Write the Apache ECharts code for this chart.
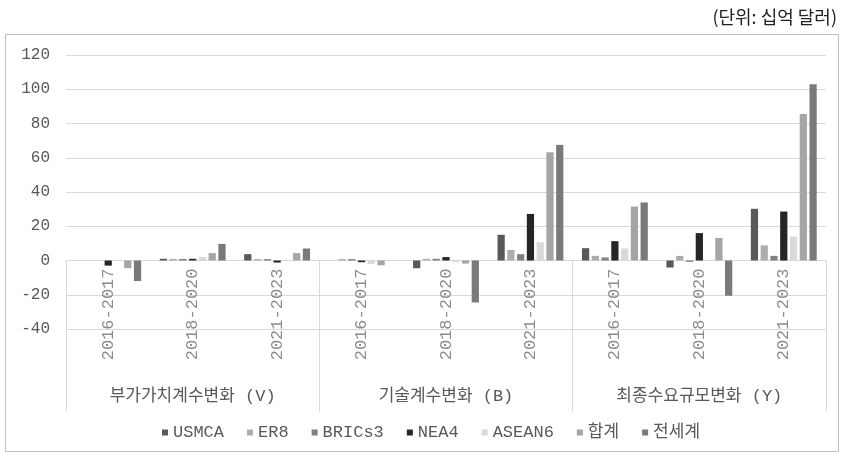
<!DOCTYPE html>
<html>
<head>
<meta charset="utf-8">
<script src="https://cdn.jsdelivr.net/npm/echarts@6/dist/echarts.min.js"></script>
<style>
  html, body { margin: 0; padding: 0; background: #fff; }
  #chart { width: 844px; height: 453px; }
</style>
</head>
<body>
<div id="chart"></div>
<script>
const periods = ['2016-2017', '2018-2020', '2021-2023', '2016-2017', '2018-2020', '2021-2023', '2016-2017', '2018-2020', '2021-2023'];
const groups = ['부가가치계수변화 (V)', '기술계수변화 (B)', '최종수요규모변화 (Y)'];
const seriesNames = ['USMCA', 'ER8', 'BRICs3', 'NEA4', 'ASEAN6', '합계', '전세계'];
const usmca  = [0, 1, 3.7, 0, -4.5, 15, 7.2, -4.1, 30.2];
const er8    = [0, 0.9, 0.8, 0.8, 1, 6.2, 2.7, 2.7, 8.8];
const brics3 = [0, 0.9, 0.8, 0.8, 1, 3.7, 1.8, -0.8, 2.7];
const nea4   = [-3, 1, -1.2, -1, 2, 27.2, 11.3, 16, 28.6];
const asean6 = [0, 2, 0.4, -2, -1, 10.7, 7, 0, 14];
const total  = [-4.5, 4.3, 4.3, -2.8, -1.8, 63.2, 31.5, 13.2, 85.6];
const world  = [-12, 9.7, 7, 0, -24.5, 67.5, 33.9, -20.6, 102.9];
const yTicks = { min: -40, max: 120, interval: 20 };

const values = [usmca, er8, brics3, nea4, asean6, total, world];
const colors = ['#595959', '#adadad', '#808080', '#262626', '#d9d9d9', '#a5a5a5', '#7a7a7a'];
const FONT = "'Liberation Mono', 'Noto Sans CJK KR', monospace";

const GRID = { left: 66, right: 18, top: 55, bottom: 124 };
// pixel distance from the grid bottom up to the value 0 line
const plotH = 453 - GRID.top - GRID.bottom;
const zeroOffset = plotH * (0 - yTicks.min) / (yTicks.max - yTicks.min);

const chart = echarts.init(document.getElementById('chart'));
chart.setOption({
  animation: false,
  color: colors,
  title: {
    text: '(단위: 십억 달러)',
    right: 2, top: 3,
    textStyle: { fontFamily: "'Noto Sans CJK KR', sans-serif", fontSize: 18, fontWeight: 'normal', color: '#222' }
  },
  graphic: [{
    type: 'rect', silent: true, z: -1,
    shape: { x: 5.5, y: 34.5, width: 833, height: 417 },
    style: { fill: 'none', stroke: '#bfbfbf', lineWidth: 1 }
  }],
  legend: {
    data: seriesNames,
    bottom: 7, left: 157,
    icon: 'rect', itemWidth: 6, itemHeight: 6, itemGap: 23,
    textStyle: { fontFamily: FONT, fontSize: 17, color: '#595959' }
  },
  grid: { left: GRID.left, right: GRID.right, top: GRID.top, bottom: GRID.bottom, containLabel: false },
  xAxis: [{
    type: 'category',
    data: periods,
    position: 'bottom',
    offset: -zeroOffset,
    axisLine: { onZero: false, lineStyle: { color: '#d9d9d9' } },
    axisTick: {
      show: true, length: 151, inside: false,
      interval: function (index) { return index % 3 === 0; },
      lineStyle: { color: '#d9d9d9' }
    },
    axisLabel: { interval: 0, rotate: 90, margin: 8, fontFamily: FONT, fontSize: 17, color: '#8c8c8c' }
  }, {
    type: 'category',
    data: groups,
    position: 'bottom',
    axisLine: { show: false, onZero: false },
    axisTick: { show: false },
    axisLabel: { interval: 0, margin: 59, fontFamily: FONT, fontSize: 17, color: '#595959' }
  }],
  yAxis: {
    type: 'value',
    min: yTicks.min, max: yTicks.max, interval: yTicks.interval,
    axisLine: { show: false },
    axisTick: { show: false },
    axisLabel: { margin: 16, fontFamily: FONT, fontSize: 16, color: '#595959' },
    splitLine: { lineStyle: { color: '#d9d9d9' } }
  },
  series: seriesNames.map(function (name, i) {
    return {
      name: name, type: 'bar', xAxisIndex: 0,
      data: values[i],
      barGap: '35%', barCategoryGap: '22%',
      itemStyle: { color: colors[i] }
    };
  })
});
</script>
</body>
</html>
